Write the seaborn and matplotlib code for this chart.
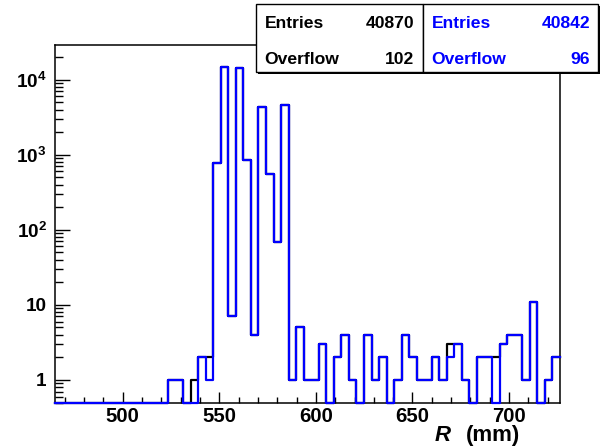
import numpy as np
import pandas as pd
import matplotlib
matplotlib.use("Agg")
import matplotlib.pyplot as plt
from matplotlib.patches import Rectangle
from matplotlib.ticker import FixedLocator, FixedFormatter, NullFormatter
import seaborn as sns

# ---------------- data ----------------
x_lo, x_hi, n_bins = 465.0, 726.3, 67
counts_blue = [0] * 15 + [
    1, 1, 0, 0, 2, 1, 780, 14900, 7, 14400, 860, 4, 4350, 560, 68, 4650,
    1, 5, 1, 1, 3, 0, 2, 4, 1, 0, 4, 1, 2, 0, 1, 4, 2, 1, 1, 2, 1, 2, 3, 1,
    0, 2, 2, 0, 3, 4, 4, 1, 11, 0, 1, 2]
counts_black = [0] * 15 + [
    1, 1, 0, 1, 2, 2, 780, 14910, 7, 14407, 860, 4, 4350, 560, 68, 4650,
    1, 5, 1, 1, 3, 0, 2, 4, 1, 0, 4, 1, 2, 0, 1, 4, 2, 1, 1, 2, 1, 3, 3, 1,
    0, 2, 2, 2, 3, 4, 4, 1, 11, 0, 1, 2]
stats_black = [("Entries", "40870"), ("Overflow", "102")]
stats_blue = [("Entries", "40842"), ("Overflow", "96")]
x_ticks = [500, 550, 600, 650, 700]
y_ticks = [1, 10, 100, 1000, 10000]
y_tick_labels = ["1", "10", "$10^{2}$", "$10^{3}$", "$10^{4}$"]
y_min, y_max = 0.5, 29000

# ---------------- style ----------------
plt.rcParams["font.family"] = ["Liberation Sans", "DejaVu Sans"]
plt.rcParams["font.weight"] = "bold"
plt.rcParams["mathtext.fontset"] = "custom"
plt.rcParams["mathtext.rm"] = "Liberation Sans:bold"
plt.rcParams["mathtext.it"] = "Liberation Sans:bold:italic"
plt.rcParams["mathtext.bf"] = "Liberation Sans:bold"

W, H = 601, 446
fig = plt.figure(figsize=(W / 100, H / 100), dpi=100)
L, R, T, B = 55, 559.9, 45, 402.5
ax = fig.add_axes([L / W, 1 - B / H, (R - L) / W, (B - T) / H])

edges = list(np.linspace(x_lo, x_hi, n_bins + 1))
centers = [(edges[i] + edges[i + 1]) / 2 for i in range(n_bins)]
df = pd.DataFrame({
    "R": centers + centers,
    # empty bins are drawn at the bottom of the log axis, as ROOT does
    "w": list(np.maximum(counts_black, y_min)) + list(np.maximum(counts_blue, y_min)),
    "h": ["black"] * n_bins + ["blue"] * n_bins,
})
for name, col in [("black", "black"), ("blue", "#0000ff")]:
    sub = df[df["h"] == name]
    sns.histplot(data=sub, x="R", weights="w", bins=edges, element="step",
                 fill=False, color=col, linewidth=1.6, ax=ax, clip_on=False,
                 zorder=3)

ax.set_yscale("log")
ax.set_xlim(x_lo, x_hi)
ax.set_ylim(y_min, y_max)
ax.set_xlabel("")
ax.set_ylabel("")

ax.xaxis.set_major_locator(FixedLocator(x_ticks))
ax.xaxis.set_minor_locator(FixedLocator(np.arange(470, 726, 10)))
ax.yaxis.set_major_locator(FixedLocator(y_ticks))
ax.yaxis.set_major_formatter(FixedFormatter(y_tick_labels))
minors = [m * 10.0 ** e for e in range(-1, 5) for m in range(2, 10)]
minors = [v for v in minors if y_min <= v <= y_max]
ax.yaxis.set_minor_locator(FixedLocator(minors))
ax.yaxis.set_minor_formatter(NullFormatter())

ax.tick_params(axis="x", which="major", direction="in", length=8, width=1.0,
               labelsize=14.7, pad=3)
ax.tick_params(axis="x", which="minor", direction="in", length=4.3, width=1.0)
ax.tick_params(axis="y", which="major", direction="in", length=10.5, width=1.0,
               labelsize=13.6, pad=6)
ax.tick_params(axis="y", which="minor", direction="in", length=5.5, width=1.0)
for lab in ax.get_xticklabels() + ax.get_yticklabels():
    lab.set_fontweight("bold")
for s in ax.spines.values():
    s.set_linewidth(1.1)

# axis title
fig.text(435 / W, 1 - 441 / H, "R", fontsize=16, fontweight="bold",
         fontstyle="italic", ha="left", va="baseline")
fig.text(465.7 / W, 1 - 441 / H, "(mm)", fontsize=16, fontweight="bold",
         ha="left", va="baseline")

# stats boxes
def stats_box(x0, x1, y0, y1, rows, color, num_right):
    sh = 2
    fig.patches.append(Rectangle((x0 / W + sh / W, 1 - (y1 + sh) / H),
                                 (x1 - x0) / W, (y1 - y0) / H,
                                 transform=fig.transFigure, facecolor="black",
                                 edgecolor="none", zorder=9))
    fig.patches.append(Rectangle((x0 / W, 1 - y1 / H), (x1 - x0) / W,
                                 (y1 - y0) / H, transform=fig.transFigure,
                                 facecolor="white", edgecolor="black",
                                 linewidth=1.0, zorder=10))
    for (lab, val), yb in zip(rows, [28.5, 64.5]):
        fig.text((x0 + 8.5) / W, 1 - yb / H, lab, color=color, fontsize=12.6,
                 fontweight="bold", ha="left", va="baseline", zorder=11)
        fig.text(num_right / W, 1 - yb / H, val, color=color, fontsize=12.6,
                 fontweight="bold", ha="right", va="baseline", zorder=11)

stats_box(256, 423, 4, 72, stats_black, "black", 414)
stats_box(423, 598, 4, 72, stats_blue, "#0000ff", 590)

fig.savefig("out.png", dpi=100)
